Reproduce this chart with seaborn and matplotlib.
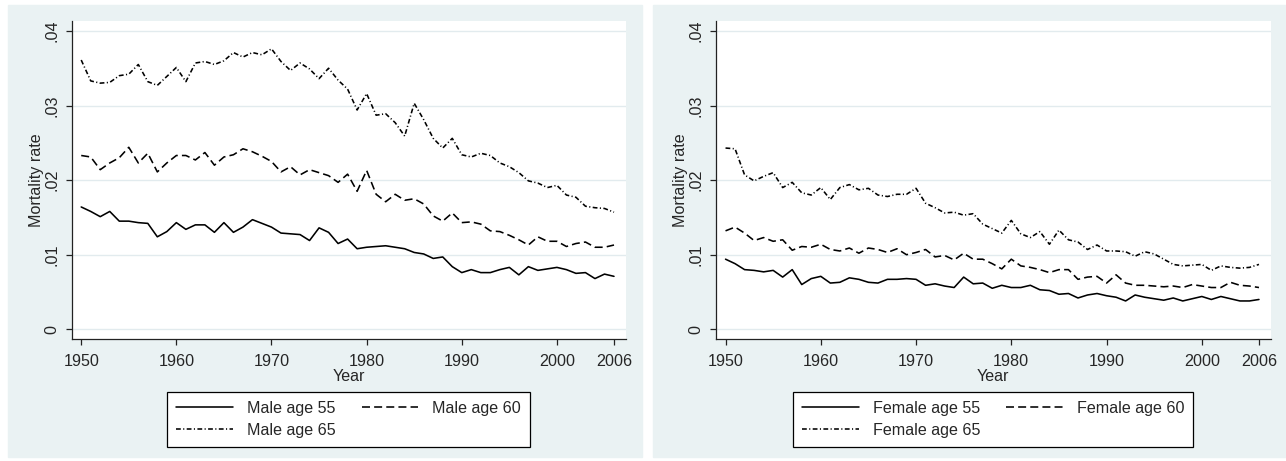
import numpy as np
import pandas as pd
import matplotlib
matplotlib.use("Agg")
import matplotlib.pyplot as plt
from matplotlib.patches import Rectangle
from matplotlib.ticker import FuncFormatter
import seaborn as sns

years = list(range(1950, 2007))

male_55 = [.0164, .0158, .0151, .0158, .0145, .0145, .0143, .0142, .0124, .0131,
           .0143, .0134, .0140, .0140, .0130, .0143, .0130, .0137, .0147, .0142,
           .0137, .0129, .0128, .0127, .0119, .0136, .0130, .0115, .0121, .0108,
           .0110, .0111, .0112, .0110, .0108, .0103, .0101, .0095, .0097, .0084,
           .0076, .0080, .0076, .0076, .0080, .0083, .0073, .0084, .0079, .0081,
           .0083, .0080, .0075, .0076, .0068, .0074, .0071]
male_60 = [.0233, .0231, .0214, .0223, .0230, .0244, .0223, .0236, .0211, .0223,
           .0233, .0233, .0227, .0237, .0220, .0231, .0234, .0242, .0238, .0232,
           .0225, .0211, .0218, .0207, .0214, .0210, .0206, .0197, .0208, .0185,
           .0213, .0181, .0171, .0181, .0173, .0175, .0168, .0152, .0145, .0156,
           .0143, .0144, .0141, .0132, .0131, .0126, .0120, .0113, .0124, .0118,
           .0118, .0111, .0115, .0117, .0110, .0110, .0113]
male_65 = [.0361, .0333, .0330, .0331, .0340, .0342, .0355, .0332, .0327, .0339,
           .0351, .0332, .0357, .0359, .0355, .0360, .0371, .0365, .0371, .0368,
           .0376, .0359, .0347, .0357, .0349, .0336, .0350, .0334, .0322, .0294,
           .0316, .0287, .0289, .0277, .0259, .0303, .0281, .0256, .0243, .0256,
           .0234, .0231, .0236, .0233, .0223, .0218, .0210, .0199, .0196, .0190,
           .0193, .0180, .0177, .0165, .0163, .0162, .0157]

female_55 = [.0094, .0088, .0080, .0079, .0077, .0079, .0070, .0080, .0060, .0068,
             .0071, .0062, .0063, .0069, .0067, .0063, .0062, .0067, .0067, .0068,
             .0067, .0059, .0061, .0058, .0056, .0070, .0061, .0062, .0055, .0059,
             .0056, .0056, .0059, .0053, .0052, .0047, .0048, .0042, .0046, .0048,
             .0045, .0043, .0038, .0046, .0043, .0041, .0039, .0042, .0038, .0041,
             .0044, .0040, .0044, .0041, .0038, .0038, .0040]
female_60 = [.0132, .0137, .0129, .0119, .0123, .0118, .0120, .0106, .0111, .0110,
             .0114, .0107, .0105, .0109, .0102, .0109, .0107, .0103, .0108, .0100,
             .0103, .0107, .0097, .0099, .0093, .0102, .0094, .0094, .0088, .0081,
             .0094, .0085, .0083, .0080, .0076, .0080, .0080, .0067, .0070, .0071,
             .0062, .0073, .0062, .0059, .0059, .0058, .0057, .0058, .0056, .0060,
             .0058, .0056, .0056, .0063, .0059, .0058, .0056]
female_65 = [.0243, .0242, .0207, .0199, .0205, .0210, .0190, .0197, .0183, .0180,
             .0190, .0174, .0190, .0194, .0187, .0189, .0180, .0178, .0181, .0181,
             .0189, .0169, .0163, .0156, .0157, .0153, .0155, .0141, .0135, .0129,
             .0146, .0128, .0123, .0131, .0114, .0133, .0120, .0117, .0107, .0113,
             .0105, .0105, .0104, .0098, .0104, .0101, .0094, .0087, .0085, .0086,
             .0087, .0079, .0085, .0083, .0082, .0083, .0087]

male_labels = ["Male age 55", "Male age 60", "Male age 65"]
female_labels = ["Female age 55", "Female age 60", "Female age 65"]
y_ticks = [0, .01, .02, .03, .04]
x_ticks = [1950, 1960, 1970, 1980, 1990, 2000, 2006]

sns.set_style("white")
plt.rcParams["font.family"] = ["Liberation Sans", "DejaVu Sans"]

BG = "#EAF2F3"
FS = 11.6
W, H = 1286, 461
fig = plt.figure(figsize=(W / 100, H / 100), dpi=100, facecolor="white")

# light panel backgrounds (stata style), kept behind the axes
fig.patches.append(Rectangle((8 / W, 1 - 457 / H), 634 / W, 452 / H,
                             transform=fig.transFigure, color=BG, zorder=-5))
fig.patches.append(Rectangle((653 / W, 1 - 457 / H), 633 / W, 452 / H,
                             transform=fig.transFigure, color=BG, zorder=-5))


def make_long(vals, labels):
    return pd.DataFrame({
        "Year": years * 3,
        "Mortality rate": vals[0] + vals[1] + vals[2],
        "series": [labels[0]] * len(years) + [labels[1]] * len(years) + [labels[2]] * len(years),
    })


def draw_panel(rect, df, labels):
    ax = fig.add_axes(rect)
    ax.set_facecolor("white")
    dashes = {labels[0]: "", labels[1]: (5, 2.6), labels[2]: (3, 1.5, 0.7, 1.5)}
    sns.lineplot(data=df, x="Year", y="Mortality rate", style="series",
                 dashes=dashes, color="black", lw=1.15, ax=ax)
    ax.set_xlim(1949.0, 2007.23)
    ax.set_ylim(-0.00134, 0.04133)
    ax.set_xticks(x_ticks)
    ax.set_yticks(y_ticks)
    ax.yaxis.set_major_formatter(FuncFormatter(lambda v, p: "0" if v == 0 else f"{v:.2f}".lstrip("0")))
    ax.grid(axis="y", color="#E2EBEE", lw=1.0)
    ax.set_axisbelow(True)
    for s in ["top", "right"]:
        ax.spines[s].set_visible(False)
    for s in ["left", "bottom"]:
        ax.spines[s].set_color("#222222")
        ax.spines[s].set_linewidth(0.9)
    ax.tick_params(axis="both", direction="out", length=4, width=0.9, color="#222222",
                   labelsize=FS, pad=5, left=True, bottom=True)
    ax.tick_params(axis="x", pad=6.5)
    plt.setp(ax.get_yticklabels(), rotation=90, va="center")
    ax.set_xlabel("Year", fontsize=FS, labelpad=0)
    ax.set_ylabel("Mortality rate", fontsize=FS, labelpad=0.5)

    leg = ax.get_legend()
    handles = leg.legend_handles
    order = [0, 2, 1]
    ax.legend([handles[i] for i in order], [labels[i] for i in order],
              loc="upper center", bbox_to_anchor=(0.5, -0.165), ncol=2,
              frameon=True, fancybox=False, edgecolor="black", framealpha=1,
              fontsize=FS, handlelength=3.5, handletextpad=0.9,
              columnspacing=1.6, labelspacing=0.45, borderpad=0.55, borderaxespad=0)
    ax.get_legend().get_frame().set_linewidth(0.9)
    return ax


draw_panel([71.7 / W, 1 - 339.3 / H, 554 / W, 318.3 / H],
           make_long([male_55, male_60, male_65], male_labels), male_labels)
draw_panel([716 / W, 1 - 339.3 / H, 554.7 / W, 318.3 / H],
           make_long([female_55, female_60, female_65], female_labels), female_labels)

fig.savefig("out.png", dpi=100, facecolor="white")
